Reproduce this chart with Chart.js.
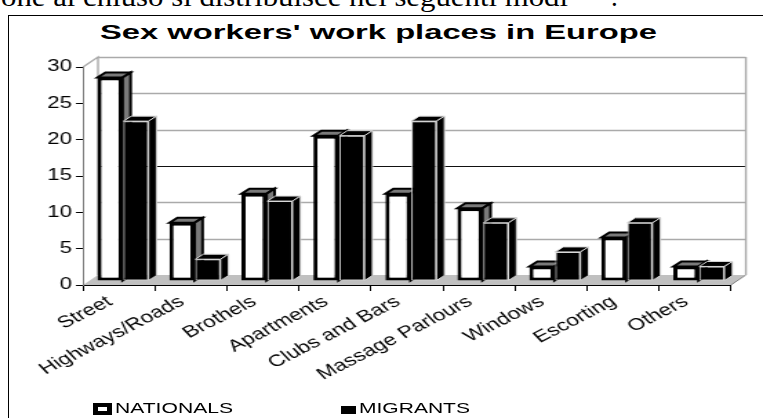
<!DOCTYPE html>
<html>
<head>
<meta charset="utf-8">
<script src="https://cdn.jsdelivr.net/npm/chart.js@4/dist/chart.umd.min.js"></script>
<style>
  html, body { margin: 0; padding: 0; background: #fff; width: 763px; height: 418px; overflow: hidden; }
  body { position: relative; }
  .frame { position: absolute; left: 8px; top: 15px; width: 800px; height: 500px; border: 1px solid #000; box-sizing: border-box; }
  .txt { position: absolute; white-space: nowrap; line-height: 1; transform-origin: 0 0; color: #000; }
  #doc, #dot { font-family: "Liberation Serif", "Times New Roman", serif; font-size: 27px; top: -15.6px; }
  #doc { left: 1px; }
  #dot { left: 611px; }
  #title { font-family: "Liberation Sans", Arial, sans-serif; font-weight: bold; font-size: 19.5px; left: 100px; top: 22.5px; }
  .leg { font-family: "Liberation Sans", Arial, sans-serif; font-size: 15.5px; top: 400.2px; }
  .box { position: absolute; box-sizing: border-box; }
  #chart { position: absolute; left: 0; top: 0; }
</style>
</head>
<body>
<div class="frame"></div>
<div id="doc" class="txt">one al chiuso si distribuisce nei seguenti modi</div>
<div id="dot" class="txt">.</div>
<div id="title" class="txt">Sex workers' work places in Europe</div>
<canvas id="chart" width="553" height="418" style="width:763px;height:418px"></canvas>
<div class="box" style="left:93px;top:403px;width:19px;height:12px;border-style:solid;border-color:#000;border-width:4px 5px;background:#fff"></div>
<div id="legN" class="txt leg" style="left:115px">NATIONALS</div>
<div class="box" style="left:341px;top:406px;width:15px;height:8px;background:#000"></div>
<div id="legM" class="txt leg" style="left:359px">MIGRANTS</div>

<script>
// Work places and shares (%) for the two groups
const categories = ['Street', 'Highways/Roads', 'Brothels', 'Apartments', 'Clubs and Bars',
                    'Massage Parlours', 'Windows', 'Escorting', 'Others'];
const nationals = [28, 8, 12, 20, 12, 10, 2, 6, 2];
const migrants  = [22, 3, 11, 20, 22, 8, 4, 8, 2];
const yTicks = [0, 5, 10, 15, 20, 25, 30];
const seriesNames = ['NATIONALS', 'MIGRANTS'];

// The chart is drawn on a narrow canvas that is stretched horizontally
const SX = 1.38;
const wall = { dx: 15 / SX, dy: -10 };     // back wall offset from the front axes
const barShift = { dx: 4 / SX, dy: -4 };  // bar front faces sit slightly behind the axes
const barDepth = { dx: 8 / SX, dy: -5 };  // thickness of each bar

const FONT = '"Liberation Sans", Arial, sans-serif';

// Squeeze/stretch a text element to a given on-screen width
function fitWidth(id, w) {
  const el = document.getElementById(id);
  const r = el.getBoundingClientRect().width;
  el.style.transform = 'scaleX(' + (w / r) + ')';
}
fitWidth('doc', 567);
fitWidth('title', 557);
fitWidth('legN', 118);
fitWidth('legM', 111);

// Walls, floor and 3-D bar blocks
const box3d = {
  id: 'box3d',
  beforeDraw(chart) {
    const { ctx, chartArea: a, scales: { y } } = chart;
    const L = a.left, R = a.right;
    const B = y.getPixelForValue(yTicks[0]);
    const T = y.getPixelForValue(yTicks[yTicks.length - 1]);
    const wx = wall.dx, wy = wall.dy;
    ctx.save();
    // floor
    ctx.fillStyle = '#c0c0c0';
    ctx.beginPath();
    ctx.moveTo(L, B); ctx.lineTo(R, B); ctx.lineTo(R + wx, B + wy); ctx.lineTo(L + wx, B + wy);
    ctx.closePath(); ctx.fill();
    ctx.strokeStyle = '#808080'; ctx.lineWidth = 1;
    ctx.beginPath(); ctx.moveTo(R, B); ctx.lineTo(R + wx, B + wy); ctx.stroke();
    // gridlines on the back wall
    yTicks.forEach(v => {
      if (v === yTicks[0]) return;
      const py = Math.round(y.getPixelForValue(v) + wy) + 0.5;
      ctx.strokeStyle = v === 15 ? '#111' : '#aaaaaa';
      ctx.lineWidth = v === 15 ? 1.2 : 1.6;
      ctx.beginPath(); ctx.moveTo(L + wx, py); ctx.lineTo(R + wx, py); ctx.stroke();
    });
    // wall edges
    ctx.strokeStyle = '#aaaaaa'; ctx.lineWidth = 1.4;
    ctx.beginPath();
    ctx.moveTo(L, T); ctx.lineTo(L + wx, T + wy); ctx.lineTo(L + wx, B + wy);
    ctx.stroke();
    ctx.beginPath(); ctx.moveTo(R + wx, T + wy); ctx.lineTo(R + wx, B + wy); ctx.stroke();
    ctx.restore();
  },
  beforeDatasetsDraw(chart) {
    const ctx = chart.ctx;
    const metas = chart.data.datasets.map((_, i) => chart.getDatasetMeta(i));
    ctx.save();
    ctx.translate(barShift.dx, barShift.dy);
    for (let i = 0; i < categories.length; i++) {
      metas.forEach((meta, d) => {
        const ds = chart.data.datasets[d];
        const bar = meta.data[i];
        const { x, y, base, width } = bar.getProps(['x', 'y', 'base', 'width'], true);
        const l = x - width / 2, r = x + width / 2;
        const { dx, dy } = barDepth;
        ctx.lineJoin = 'miter';
        ctx.lineWidth = ds.faceLineWidth;
        ctx.strokeStyle = ds.faceLine;
        // top face
        ctx.fillStyle = ds.topColor;
        ctx.beginPath();
        ctx.moveTo(l, y); ctx.lineTo(l + dx, y + dy); ctx.lineTo(r + dx, y + dy); ctx.lineTo(r, y);
        ctx.closePath(); ctx.fill(); ctx.stroke();
        // side face
        ctx.fillStyle = ds.sideColor;
        ctx.beginPath();
        ctx.moveTo(r, y); ctx.lineTo(r + dx, y + dy); ctx.lineTo(r + dx, base + dy); ctx.lineTo(r, base);
        ctx.closePath(); ctx.fill(); ctx.stroke();
        // front face
        bar.draw(ctx);
      });
    }
    ctx.restore();
    return false;
  }
};

new Chart(document.getElementById('chart'), {
  type: 'bar',
  data: {
    labels: categories,
    datasets: [
      {
        label: seriesNames[0], data: nationals,
        backgroundColor: '#ffffff', borderColor: '#000000', borderWidth: 3, borderSkipped: false,
        topColor: '#7a7a7a', sideColor: '#7a7a7a', faceLine: '#000000', faceLineWidth: 2
      },
      {
        label: seriesNames[1], data: migrants,
        backgroundColor: '#000000', borderColor: '#d8d8d8', borderWidth: 1, borderSkipped: false,
        topColor: '#000000', sideColor: '#000000', faceLine: '#d8d8d8', faceLineWidth: 1
      }
    ]
  },
  options: {
    responsive: false,
    animation: false,
    devicePixelRatio: 1,
    layout: { padding: { left: 0, top: 67, right: 553 - 731 / SX, bottom: 0 } },
    datasets: { bar: { categoryPercentage: 0.72, barPercentage: 0.97 } },
    plugins: { legend: { display: false }, tooltip: { enabled: false }, title: { display: false } },
    scales: {
      x: {
        afterFit(s) { s.height = 133; },
        ticks: {
          color: '#000', autoSkip: false, minRotation: 35, maxRotation: 35, padding: 1,
          labelOffset: -6.5,
          font: { family: FONT, size: 16.5 }
        },
        grid: { offset: true, drawOnChartArea: false, drawTicks: true, tickLength: 6, color: '#000' },
        border: { display: true, color: '#000', width: 1 }
      },
      y: {
        min: yTicks[0], max: yTicks[yTicks.length - 1],
        afterFit(s) { s.width = 83 / SX; },
        afterBuildTicks(s) { s.ticks = yTicks.map(v => ({ value: v })); },
        ticks: { color: '#000', padding: 3, font: { family: FONT, size: 16 } },
        grid: { drawOnChartArea: false, drawTicks: true, tickLength: 7 / SX, color: '#000' },
        border: { display: true, color: '#808080', width: 1 }
      }
    }
  },
  plugins: [box3d]
});
</script>
</body>
</html>
